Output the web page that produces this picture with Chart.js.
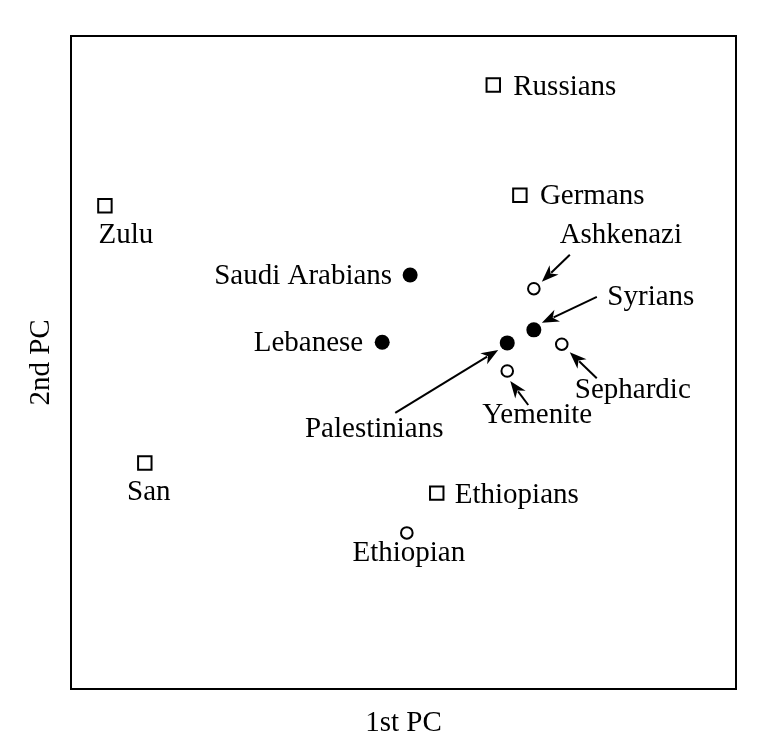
<!DOCTYPE html>
<html lang="en">
<head>
  <meta charset="UTF-8">
  <title>1st PC vs 2nd PC</title>
  <script src="https://cdn.jsdelivr.net/npm/chart.js"></script>
  <style>
    body { margin: 0; background: #fff; }
    #wrap { width: 768px; height: 746px; }
  </style>
</head>
<body>
  <div id="wrap"><canvas id="pcaChart"></canvas></div>

  <script>
    // populations shown as open squares
    const squareNames = ['Russians', 'Germans', 'Zulu', 'San', 'Ethiopians'];
    const squareX = [63.5, 67.5, 5.1, 11.1, 55.0];
    const squareY = [92.5, 75.6, 74.0, 34.6, 30.0];

    // filled circles
    const filledNames = ['Saudi Arabians', 'Lebanese', 'Syrians', 'Palestinians'];
    const filledX = [51.0, 46.8, 69.6, 65.6];
    const filledY = [63.4, 53.1, 55.0, 53.0];

    // open circles (Jewish groups)
    const openNames = ['Ashkenazi', 'Sephardic', 'Yemenite', 'Ethiopian'];
    const openX = [69.6, 73.8, 65.6, 50.5];
    const openY = [61.3, 52.8, 48.7, 23.9];

    // where each label sits relative to its point (pixels), and optional arrow
    const labelPlace = {
      'Russians':       { dx: 20,   dy: 10, align: 'left' },
      'Germans':        { dx: 20,   dy: 9,  align: 'left' },
      'Zulu':           { dx: 21,   dy: 37, align: 'center' },
      'San':            { dx: 4,    dy: 37, align: 'center' },
      'Ethiopians':     { dx: 18,   dy: 10, align: 'left' },
      'Saudi Arabians': { dx: -18,  dy: 9,  align: 'right' },
      'Lebanese':       { dx: -19,  dy: 9,  align: 'right' },
      'Syrians':        { dx: 117,  dy: -25, align: 'center', arrow: [63, -33, 8, -7] },
      'Palestinians':   { dx: -133, dy: 94, align: 'center', arrow: [-112, 70, -9, 7] },
      'Ashkenazi':      { dx: 87,   dy: -46, align: 'center', arrow: [36, -34, 8, -7] },
      'Sephardic':      { dx: 71,   dy: 54, align: 'center', arrow: [35, 34, 8, 8] },
      'Yemenite':       { dx: 30,   dy: 52, align: 'center', arrow: [21, 34, 3, 10] },
      'Ethiopian':      { dx: 2,    dy: 28, align: 'center' }
    };

    const serif = "'Liberation Serif', 'Times New Roman', serif";

    function toPoints(xs, ys) {
      return xs.map((x, i) => ({ x: x, y: ys[i] }));
    }

    function drawArrow(ctx, x1, y1, x2, y2) {
      const ang = Math.atan2(y2 - y1, x2 - x1);
      const c = Math.cos(ang), s = Math.sin(ang);
      const head = 17, half = 6.5;
      const bx = x2 - head * c, by = y2 - head * s;
      ctx.beginPath();
      ctx.moveTo(x1, y1);
      ctx.lineTo(bx + 4 * c, by + 4 * s);
      ctx.stroke();
      // notched head like the original
      ctx.beginPath();
      ctx.moveTo(x2, y2);
      ctx.lineTo(bx + half * s, by - half * c);
      ctx.lineTo(bx + 5 * c, by + 5 * s);
      ctx.lineTo(bx - half * s, by + half * c);
      ctx.closePath();
      ctx.fill();
    }

    const frameAndLabels = {
      id: 'frameAndLabels',
      beforeDatasetsDraw(chart) {
        const { ctx, chartArea: a } = chart;
        ctx.save();
        ctx.strokeStyle = '#000';
        ctx.lineWidth = 2;
        ctx.strokeRect(a.left, a.top, a.right - a.left, a.bottom - a.top);
        ctx.restore();
      },
      afterDatasetsDraw(chart) {
        const ctx = chart.ctx;
        ctx.save();
        ctx.fillStyle = '#000';
        ctx.strokeStyle = '#000';
        ctx.lineWidth = 2;
        ctx.font = '29px ' + serif;
        ctx.textBaseline = 'alphabetic';
        chart.data.datasets.forEach((ds, di) => {
          chart.getDatasetMeta(di).data.forEach((pt, i) => {
            const name = ds.names[i];
            const p = labelPlace[name];
            ctx.textAlign = p.align;
            ctx.fillText(name, pt.x + p.dx, pt.y + p.dy);
            if (p.arrow) {
              const [tx, ty, hx, hy] = p.arrow;
              drawArrow(ctx, pt.x + tx, pt.y + ty, pt.x + hx, pt.y + hy);
            }
          });
        });
        ctx.restore();
      }
    };

    const ctx = document.getElementById('pcaChart').getContext('2d');
    new Chart(ctx, {
      type: 'scatter',
      data: {
        datasets: [
          {
            names: squareNames,
            data: toPoints(squareX, squareY),
            pointStyle: 'rect',
            pointRadius: 9.5,
            backgroundColor: '#fff',
            borderColor: '#000',
            borderWidth: 2
          },
          {
            names: filledNames,
            data: toPoints(filledX, filledY),
            pointStyle: 'circle',
            pointRadius: 7.5,
            backgroundColor: '#000',
            borderColor: '#000',
            borderWidth: 0
          },
          {
            names: openNames,
            data: toPoints(openX, openY),
            pointStyle: 'circle',
            pointRadius: 5.8,
            backgroundColor: '#fff',
            borderColor: '#000',
            borderWidth: 2
          }
        ]
      },
      options: {
        responsive: true,
        maintainAspectRatio: false,
        animation: false,
        layout: { padding: { top: 36, right: 32, left: 0, bottom: 0 } },
        plugins: {
          legend: { display: false },
          tooltip: { enabled: false }
        },
        scales: {
          x: {
            min: 0,
            max: 100,
            ticks: { display: false },
            grid: { display: false, drawTicks: false },
            border: { display: false },
            title: {
              display: true,
              text: '1st PC',
              color: '#000',
              font: { family: serif, size: 29 },
              padding: { top: 16.6, bottom: 5.6 }
            }
          },
          y: {
            min: 0,
            max: 100,
            ticks: { display: false },
            grid: { display: false, drawTicks: false },
            border: { display: false },
            title: {
              display: true,
              text: '2nd PC',
              color: '#000',
              font: { family: serif, size: 29 },
              padding: { top: 24, bottom: 12.2 }
            }
          }
        }
      },
      plugins: [frameAndLabels]
    });
  </script>
</body>
</html>
